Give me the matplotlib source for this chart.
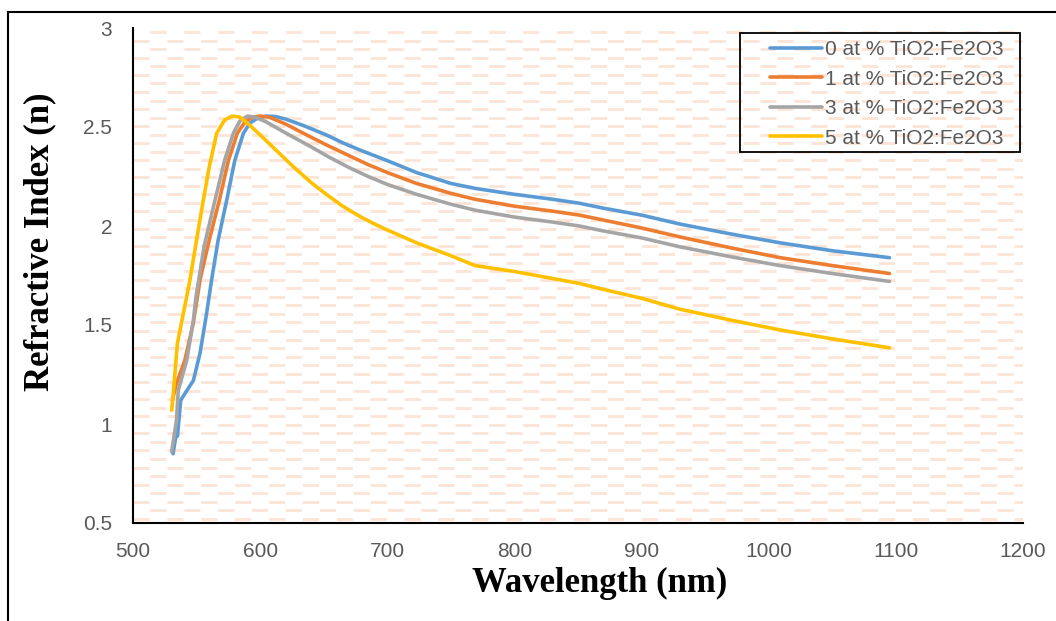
import matplotlib.pyplot as plt
from matplotlib.lines import Line2D
from matplotlib.patches import Rectangle

plt.rcParams['font.family'] = ['Liberation Sans Narrow', 'Liberation Sans', 'DejaVu Sans']

# --- data ---
wl_0 = [531.5, 533.5, 535, 537.5, 541, 547.5, 552.7, 557.9, 561.8, 567, 573.7, 580, 586.8, 592, 598, 605,
        612, 620, 635, 652, 665, 678, 690, 700, 723, 750, 769, 800, 830, 851, 870, 900, 930, 970, 1009, 1050, 1095]
n_0 = [0.85, 0.93, 0.94, 1.12, 1.155, 1.22, 1.357, 1.559, 1.727, 1.93, 2.13, 2.33, 2.468, 2.52, 2.545, 2.555,
       2.553, 2.54, 2.505, 2.46, 2.42, 2.385, 2.355, 2.33, 2.27, 2.215, 2.19, 2.16, 2.135, 2.115, 2.09, 2.055,
       2.01, 1.96, 1.915, 1.875, 1.84]

wl_1 = [531, 534.2, 540.7, 547.4, 552.7, 560, 567.9, 575, 582, 588, 594, 600, 607, 620, 635, 652, 670, 685,
        700, 723, 750, 769, 800, 830, 851, 870, 900, 930, 970, 1009, 1050, 1095]
n_1 = [1.12, 1.205, 1.32, 1.508, 1.727, 1.93, 2.13, 2.33, 2.468, 2.525, 2.55, 2.555, 2.55, 2.515, 2.465, 2.41,
       2.355, 2.31, 2.27, 2.215, 2.165, 2.135, 2.10, 2.075, 2.055, 2.03, 1.99, 1.945, 1.89, 1.84, 1.80, 1.76]

wl_3 = [530.4, 532.2, 534.2, 535.6, 542.2, 547.4, 549.5, 556, 564.5, 572, 578.9, 584, 590, 596, 605, 620, 640,
        655, 670, 685, 700, 723, 750, 769, 800, 830, 851, 870, 900, 930, 970, 1009, 1050, 1095]
n_3 = [0.86, 0.936, 1.02, 1.17, 1.32, 1.52, 1.64, 1.90, 2.13, 2.33, 2.468, 2.53, 2.555, 2.55, 2.525, 2.47, 2.40,
       2.345, 2.295, 2.25, 2.21, 2.16, 2.11, 2.08, 2.045, 2.02, 2.0, 1.975, 1.94, 1.895, 1.845, 1.80, 1.76, 1.72]

wl_5 = [530.4, 531.7, 534.9, 536.5, 539.6, 541.7, 544.8, 550, 555.3, 560, 565.8, 572, 578, 584, 590, 600, 613,
        626, 640, 652, 665, 678, 690, 700, 723, 750, 769, 800, 830, 851, 870, 900, 930, 970, 1009, 1050, 1095]
n_5 = [1.07, 1.155, 1.407, 1.458, 1.559, 1.626, 1.727, 1.93, 2.13, 2.30, 2.468, 2.535, 2.555, 2.55, 2.52, 2.46,
       2.38, 2.30, 2.22, 2.16, 2.10, 2.05, 2.01, 1.98, 1.915, 1.85, 1.80, 1.77, 1.735, 1.71, 1.68, 1.635,
       1.58, 1.525, 1.475, 1.43, 1.385]

labels = ['0 at % TiO2:Fe2O3', '1 at % TiO2:Fe2O3', '3 at % TiO2:Fe2O3', '5 at % TiO2:Fe2O3']
colors = ['#5B9BD5', '#ED7D31', '#A5A5A5', '#FFC000']
x_ticks = [500, 600, 700, 800, 900, 1000, 1100, 1200]
y_ticks = [0.5, 1, 1.5, 2, 2.5, 3]
y_ticklabels = ['0.5', '1', '1.5', '2', '2.5', '3']

fig = plt.figure(figsize=(10.56, 6.21), dpi=100)
ax = fig.add_axes([133 / 1056, 1 - 523 / 621, 890 / 1056, 495 / 621])

# dashed horizontal pattern fill (Excel style)
n_rows = 58
for i in range(n_rows):
    yf = (i + 0.5) / n_rows
    off = 0 if i % 2 == 0 else 6.1
    ax.plot([0, 1], [yf, yf], transform=ax.transAxes, color='#FCE4D6', lw=2.0,
            ls=(off, (5.8, 6.4)), zorder=0, dash_capstyle='butt')

for wl, n, c, lab in zip([wl_0, wl_1, wl_3, wl_5], [n_0, n_1, n_3, n_5], colors, labels):
    ax.plot(wl, n, color=c, lw=2.6, label=lab, solid_joinstyle='round', solid_capstyle='round', zorder=3)

ax.set_xlim(500, 1200)
ax.set_ylim(0.5, 3)
ax.set_xticks(x_ticks)
ax.set_yticks(y_ticks)
ax.set_xticklabels([str(v) for v in x_ticks])
ax.set_yticklabels(y_ticklabels)
ax.tick_params(length=0, labelsize=15, labelcolor='#595959')
ax.tick_params(axis='x', pad=14)
ax.tick_params(axis='y', pad=15)

for s in ['top', 'right']:
    ax.spines[s].set_visible(False)
for s in ['left', 'bottom']:
    ax.spines[s].set_linewidth(1.5)
    ax.spines[s].set_color('black')

ax.set_xlabel('Wavelength (nm)', fontsize=25, fontweight='bold', family='Liberation Serif')
ax.set_ylabel('Refractive Index (n)', fontsize=25, fontweight='bold', family='Liberation Serif')
ax.xaxis.set_label_coords((600 - 133) / 890, -0.088)
ax.yaxis.set_label_coords((56 - 133) / 890, (523 - 242) / 495)

# legend: entries without frame, plus a separate box like Excel's
leg = ax.legend(loc='upper right', bbox_to_anchor=((1011 - 133) / 890, (523 - 33) / 495),
                borderaxespad=0, fontsize=15, frameon=False,
                handlelength=2.5, handletextpad=0.15, labelspacing=0.5, borderpad=0.35)
for t in leg.get_texts():
    t.set_color('#595959')
ax.add_patch(Rectangle(((740 - 133) / 890, (523 - 152) / 495), 280 / 890, 119 / 495,
                       transform=ax.transAxes, fill=False, edgecolor='black', lw=1.3, zorder=5))

# outer chart border
fig.add_artist(Line2D([8 / 1056, 1], [1 - 12 / 621, 1 - 12 / 621], color='black', lw=1.5))
fig.add_artist(Line2D([8 / 1056, 8 / 1056], [0, 1 - 12 / 621], color='black', lw=1.5))

fig.savefig('out.png', dpi=100)
